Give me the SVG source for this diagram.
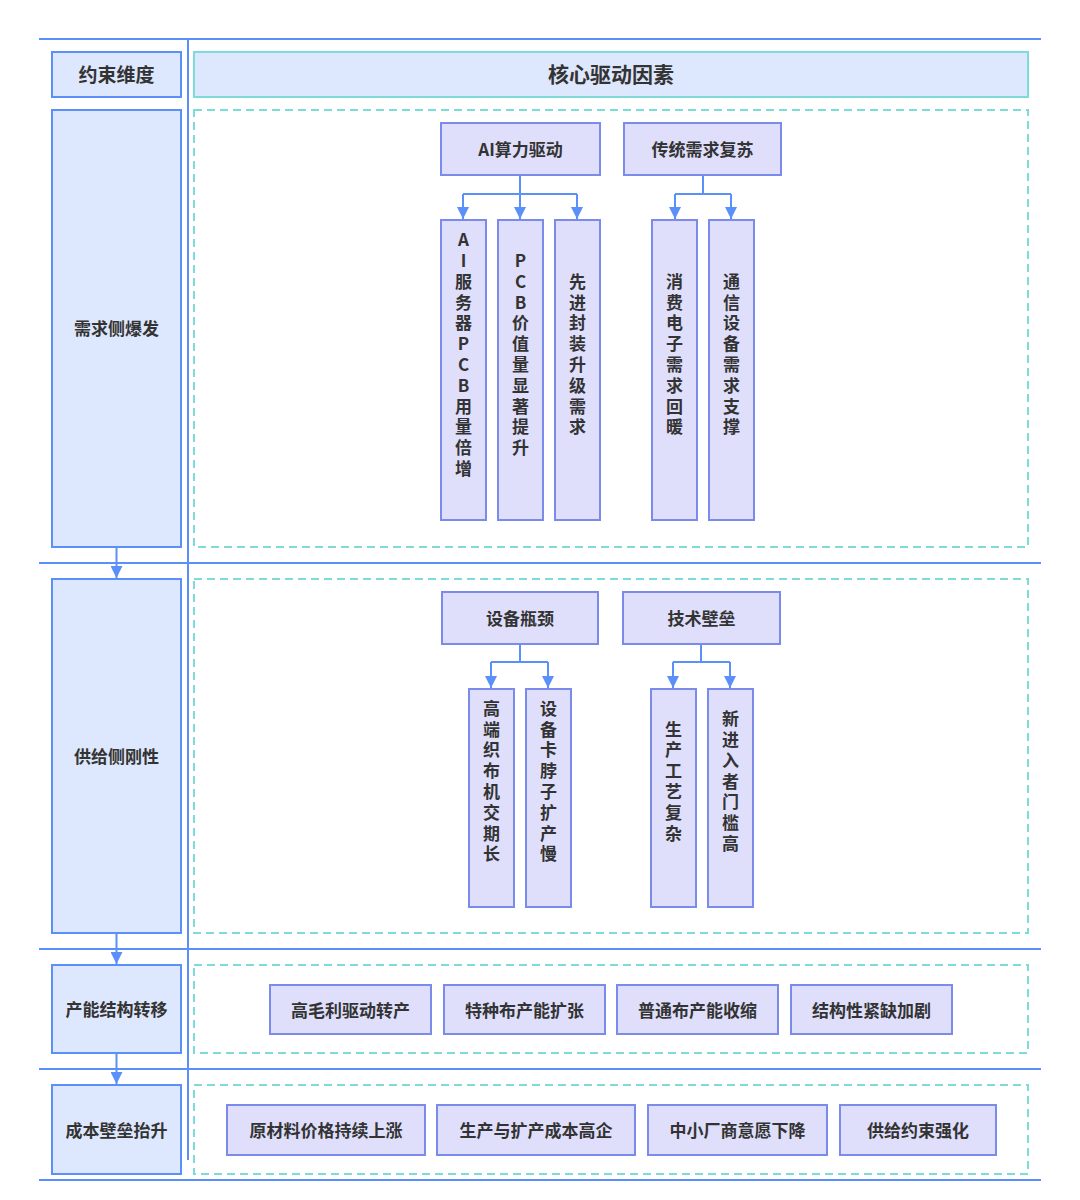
<svg xmlns="http://www.w3.org/2000/svg" width="1080" height="1200" viewBox="0 0 1080 1200">
<defs>
<marker id="ah" viewBox="0 0 10 10" refX="10" refY="5" markerWidth="12" markerHeight="12" markerUnits="userSpaceOnUse" orient="auto">
<path d="M0,0 L10,5 L0,10 z" fill="#5b8ff9"/>
</marker>
<style>
.sep{stroke:#5b8ff9;stroke-width:2;fill:none}
.dim{fill:#dde7fd;stroke:#5b8ff9;stroke-width:2}
.hdr{fill:#dde7fd;stroke:#7ddcd9;stroke-width:2}
.zone{fill:none;stroke:#7ddcd9;stroke-width:2;stroke-dasharray:8 5}
.nd{fill:#dfdffc;stroke:#7a8bec;stroke-width:2}
.t{font-family:"Noto Sans CJK SC","Noto Sans",sans-serif;font-weight:bold;fill:#333;font-size:17px;text-anchor:middle;dominant-baseline:central}
.v{font-family:"Noto Sans CJK SC","Noto Sans",sans-serif;font-weight:bold;fill:#333;font-size:17px;text-anchor:middle;writing-mode:vertical-rl;text-orientation:upright;letter-spacing:3.8px}
.h{font-size:21px}
.d{font-size:19px}
.c{stroke:#5b8ff9;stroke-width:2;fill:none}
</style>
</defs>
<rect width="1080" height="1200" fill="#fff"/>
<g id="grid">
<line class="sep" x1="39" y1="39" x2="1041" y2="39"/>
<line class="sep" x1="39" y1="563" x2="1041" y2="563"/>
<line class="sep" x1="39" y1="949" x2="1041" y2="949"/>
<line class="sep" x1="39" y1="1069" x2="1041" y2="1069"/>
<line class="sep" x1="39" y1="1180" x2="1041" y2="1180"/>
<line class="sep" x1="188" y1="39" x2="188" y2="1160"/>
</g>
<g id="dim-header"><rect class="dim" x="52" y="52" width="129" height="45"/><text class="t d" x="116.5" y="73">约束维度</text></g>
<g id="core-header"><rect class="hdr" x="194" y="52" width="834" height="45"/><text class="t h" x="611" y="73">核心驱动因素</text></g>
<g id="dim-demand"><rect class="dim" x="52" y="110" width="129" height="437"/><text class="t" x="116.5" y="327">需求侧爆发</text></g>
<g id="dim-supply"><rect class="dim" x="52" y="579" width="129" height="354"/><text class="t" x="116.5" y="755">供给侧刚性</text></g>
<g id="dim-capacity"><rect class="dim" x="52" y="965" width="129" height="88"/><text class="t" x="116.5" y="1008">产能结构转移</text></g>
<g id="dim-cost"><rect class="dim" x="52" y="1085" width="129" height="89"/><text class="t" x="116.5" y="1129">成本壁垒抬升</text></g>
<g id="zones">
<rect class="zone" x="194" y="110" width="834" height="437"/>
<rect class="zone" x="194" y="579" width="834" height="354"/>
<rect class="zone" x="194" y="965" width="834" height="88"/>
<rect class="zone" x="194" y="1085" width="834" height="89"/>
</g>
<g id="connectors">
<line class="c" x1="116.5" y1="547" x2="116.5" y2="578" marker-end="url(#ah)"/>
<line class="c" x1="116.5" y1="933" x2="116.5" y2="964" marker-end="url(#ah)"/>
<line class="c" x1="116.5" y1="1053" x2="116.5" y2="1084" marker-end="url(#ah)"/>
<path class="c" d="M520,175 V194 M463,194 H577"/>
<path class="c" d="M520,194 V219" marker-end="url(#ah)"/>
<path class="c" d="M463,194 V219" marker-end="url(#ah)"/>
<path class="c" d="M577,194 V219" marker-end="url(#ah)"/>
<path class="c" d="M703,175 V194 M675,194 H731"/>
<path class="c" d="M675,194 V219" marker-end="url(#ah)"/>
<path class="c" d="M731,194 V219" marker-end="url(#ah)"/>
<path class="c" d="M520,644 V662 M491,662 H548"/>
<path class="c" d="M491,662 V688" marker-end="url(#ah)"/>
<path class="c" d="M548,662 V688" marker-end="url(#ah)"/>
<path class="c" d="M701,644 V662 M673,662 H730"/>
<path class="c" d="M673,662 V688" marker-end="url(#ah)"/>
<path class="c" d="M730,662 V688" marker-end="url(#ah)"/>
</g>
<g id="n-ai"><rect class="nd" x="441" y="123" width="159" height="52"/><text class="t" x="520.5" y="148">AI算力驱动</text></g>
<g id="n-trad"><rect class="nd" x="624" y="123" width="157" height="52"/><text class="t" x="702.5" y="148">传统需求复苏</text></g>
<g id="n-ai-server"><rect class="nd" x="441" y="220" width="45" height="300"/><text class="v" x="463.5" y="356">AI服务器PCB用量倍增</text></g>
<g id="n-pcb"><rect class="nd" x="498" y="220" width="45" height="300"/><text class="v" x="520.5" y="356">PCB价值量显著提升</text></g>
<g id="n-pkg"><rect class="nd" x="555" y="220" width="45" height="300"/><text class="v" x="577.5" y="356">先进封装升级需求</text></g>
<g id="n-consumer"><rect class="nd" x="652" y="220" width="45" height="300"/><text class="v" x="674.5" y="356">消费电子需求回暖</text></g>
<g id="n-telecom"><rect class="nd" x="709" y="220" width="45" height="300"/><text class="v" x="731.5" y="356">通信设备需求支撑</text></g>
<g id="n-equip"><rect class="nd" x="442" y="592" width="156" height="52"/><text class="t" x="520" y="617">设备瓶颈</text></g>
<g id="n-tech"><rect class="nd" x="623" y="592" width="157" height="52"/><text class="t" x="701.5" y="617">技术壁垒</text></g>
<g id="n-loom"><rect class="nd" x="469" y="689" width="45" height="218"/><text class="v" x="491.5" y="783">高端织布机交期长</text></g>
<g id="n-choke"><rect class="nd" x="526" y="689" width="45" height="218"/><text class="v" x="548.5" y="783">设备卡脖子扩产慢</text></g>
<g id="n-process"><rect class="nd" x="651" y="689" width="45" height="218"/><text class="v" x="673.5" y="783">生产工艺复杂</text></g>
<g id="n-entry"><rect class="nd" x="708" y="689" width="45" height="218"/><text class="v" x="730.5" y="783">新进入者门槛高</text></g>
<g id="n-margin"><rect class="nd" x="270" y="985" width="161" height="49"/><text class="t" x="350.5" y="1009">高毛利驱动转产</text></g>
<g id="n-special"><rect class="nd" x="444" y="985" width="161" height="49"/><text class="t" x="524.5" y="1009">特种布产能扩张</text></g>
<g id="n-common"><rect class="nd" x="617" y="985" width="161" height="49"/><text class="t" x="697.5" y="1009">普通布产能收缩</text></g>
<g id="n-shortage"><rect class="nd" x="791" y="985" width="161" height="49"/><text class="t" x="871.5" y="1009">结构性紧缺加剧</text></g>
<g id="n-raw"><rect class="nd" x="227" y="1105" width="198" height="50"/><text class="t" x="326" y="1129">原材料价格持续上涨</text></g>
<g id="n-costhigh"><rect class="nd" x="437" y="1105" width="198" height="50"/><text class="t" x="536" y="1129">生产与扩产成本高企</text></g>
<g id="n-sme"><rect class="nd" x="648" y="1105" width="179" height="50"/><text class="t" x="737.5" y="1129">中小厂商意愿下降</text></g>
<g id="n-constraint"><rect class="nd" x="840" y="1105" width="156" height="50"/><text class="t" x="918" y="1129">供给约束强化</text></g>
</svg>
